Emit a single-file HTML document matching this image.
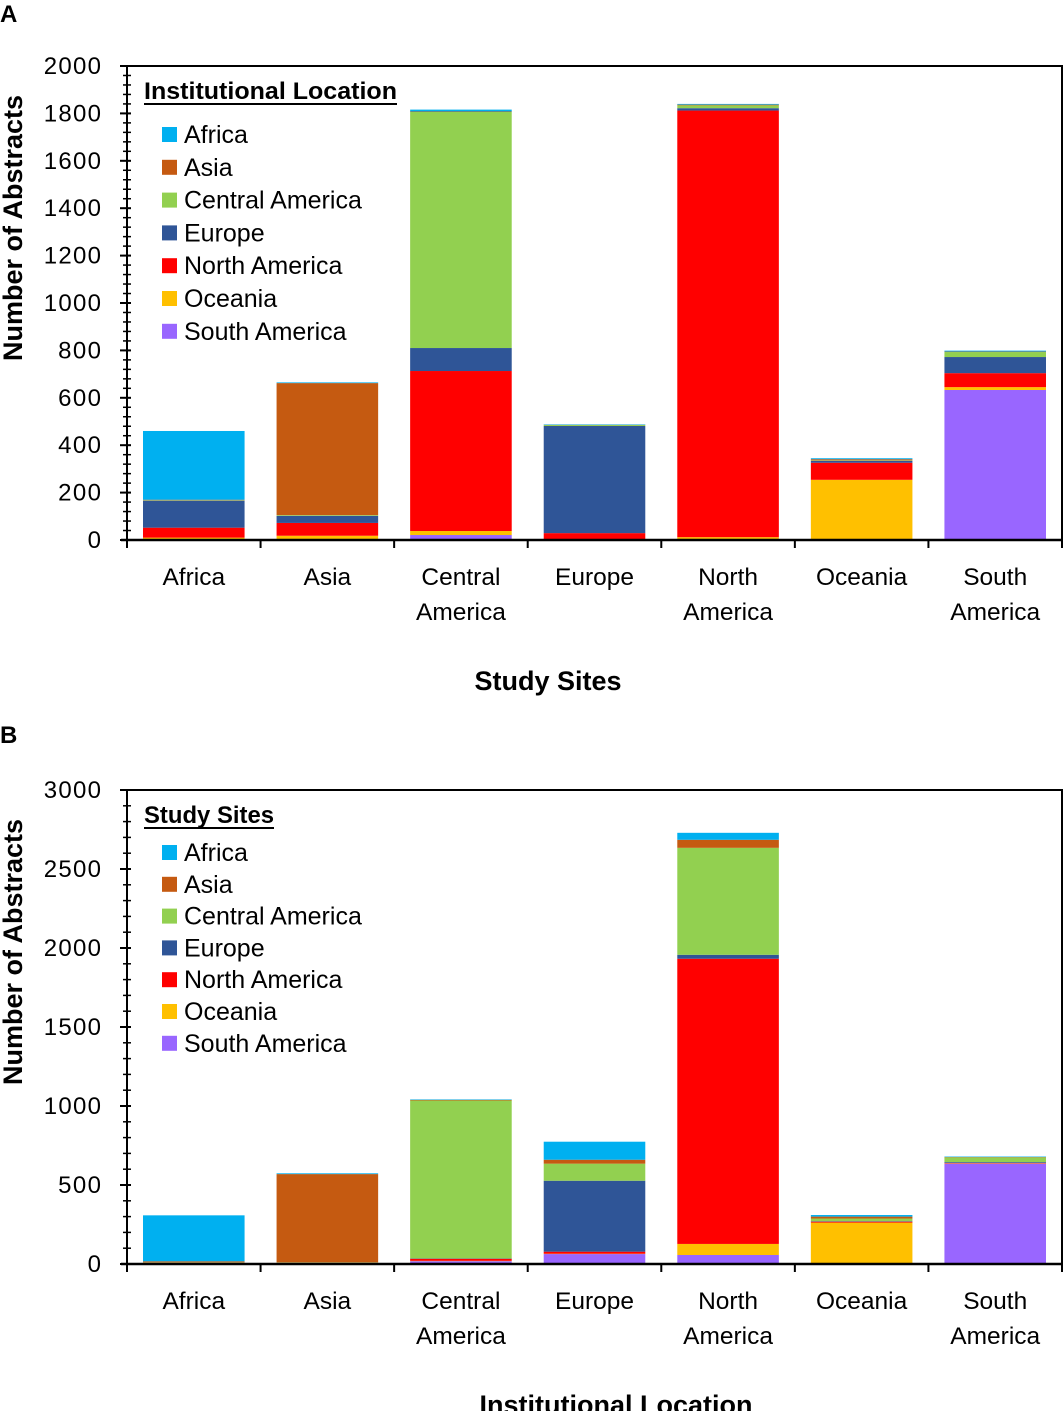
<!DOCTYPE html>
<html><head><meta charset="utf-8"><style>
body{margin:0;background:#fff;}
svg{display:block;font-family:"Liberation Sans",sans-serif;}
</style></head><body>
<svg id="svg" width="1063" height="1411" viewBox="0 0 1063 1411" xmlns="http://www.w3.org/2000/svg"></svg>
<script>
const categories = ["Africa","Asia","Central America","Europe","North America","Oceania","South America"];
const seriesNames = ["Africa","Asia","Central America","Europe","North America","Oceania","South America"];
const colors = ["#00B0F0","#C55A11","#92D050","#2F5597","#FF0000","#FFC000","#9966FF"];
// Panel A values: per series (institutional location), per study site category
const aAfrica  = [290, 3, 8, 2, 3, 4, 4];
const aAsia    = [2, 557, 2, 1, 3, 5, 2];
const aCentral = [2, 3, 996, 4, 12, 2, 21];
const aEurope  = [114, 30, 97, 452, 10, 8, 68];
const aNorth   = [42, 54, 675, 27, 1800, 72, 59];
const aOceania = [8, 17, 17, 1, 8, 253, 12];
const aSouth   = [2, 1, 21, 1, 4, 1, 633];
// Panel B values: per series (study site), per institutional location category
const bAfrica  = [291, 5, 3, 114, 44, 10, 3];
const bAsia    = [5, 557, 4, 25, 51, 12, 2];
const bCentral = [1, 1, 1000, 108, 677, 17, 30];
const bEurope  = [1, 1, 2, 449, 25, 3, 5];
const bNorth   = [1, 1, 13, 13, 1805, 6, 3];
const bOceania = [8, 8, 2, 2, 70, 259, 2];
const bSouth   = [1, 1, 18, 63, 57, 3, 635];
const aTicks = [0,200,400,600,800,1000,1200,1400,1600,1800,2000];
const bTicks = [0,500,1000,1500,2000,2500,3000];

const NS="http://www.w3.org/2000/svg";
const svg=document.getElementById('svg');
function mk(tag,attrs,parent){const e=document.createElementNS(NS,tag);for(const k in attrs)e.setAttribute(k,attrs[k]);(parent||svg).appendChild(e);return e;}

function panel(cfg){
  const g=mk('g',{});
  
  
  const x0=127,x1=1062,y0=cfg.base,yT=cfg.top,max=cfg.max;
  const yS=v=>y0-(v/max)*(y0-yT);
  const cw=(x1-x0)/categories.length;
  const xS=i=>x0+i*cw;
  const L=mk('text',{x:0,y:cfg.letterY,'font-size':24,'font-weight':'bold',fill:'#000'},g);L.textContent=cfg.letter;
  
  
  const stackOrder=[6,5,4,3,2,1,0];
  categories.forEach((c,i)=>{
    let acc=0;
    stackOrder.forEach(s=>{
      const v=cfg.data[s][i];
      const r=mk('rect',{x:xS(i)+16,y:yS(acc+v),width:cw-32,height:Math.max(0,yS(acc)-yS(acc+v)),fill:colors[s]},g);
      
      
      acc+=v;
    });
  });
  const fr=mk('path',{d:`M${x0},${yT}H${x1}V${y0}`,fill:'none',stroke:'#000','stroke-width':2},g);
  
  
  const ya=mk('line',{x1:x0,y1:yT,x2:x0,y2:y0,stroke:'#000','stroke-width':2},g);
  
  
  const xa=mk('line',{x1:x0-6,y1:y0,x2:x1,y2:y0,stroke:'#000','stroke-width':2.5},g);
  
  
  for(let v=0;v<=max;v+=cfg.minor){
    mk('line',{x1:x0-4,y1:yS(v),x2:x0+4,y2:yS(v),stroke:'#000','stroke-width':1.5},g);
  }
  cfg.ticks.forEach(t=>{
    mk('line',{x1:x0-7,y1:yS(t),x2:x0+4,y2:yS(t),stroke:'#000','stroke-width':2},g);
    const tx=mk('text',{x:101,y:yS(t)+8,'font-size':24,'text-anchor':'end','textLength':String(t).length*14.3,fill:'#000'},g);
    tx.textContent=t;
    
    
  });
  for(let i=0;i<=categories.length;i++){
    mk('line',{x1:xS(i),y1:y0,x2:xS(i),y2:y0+8,stroke:'#000','stroke-width':2},g);
  }
  categories.forEach((c,i)=>{
    const parts=c.split(' ');
    parts.forEach((p,k)=>{
      const tx=mk('text',{x:xS(i)+cw/2,y:y0+45+k*35,'font-size':24.5,'text-anchor':'middle',fill:'#000'},g);
      tx.textContent=p;
      
      
    });
  });
  const xt=mk('text',{x:cfg.xTitleX,y:y0+150,'font-size':27,'font-weight':'bold','text-anchor':'middle',fill:'#000'},g);
  xt.textContent=cfg.xTitle;
  
  
  const yt=mk('text',{x:0,y:0,'font-size':27,'font-weight':'bold','text-anchor':'middle',fill:'#000',transform:`translate(22,${(yT+y0)/2-75}) rotate(-90)`},g);
  yt.textContent='Number of Abstracts';
  
  
  const tw=cfg.legendTitle.length>14?253:130;
  const lt=mk('text',{x:144,y:yT+33,'font-size':24,'font-weight':'bold',fill:'#000',textLength:tw,lengthAdjust:'spacingAndGlyphs'},g);
  lt.textContent=cfg.legendTitle;
  
  
  mk('line',{x1:144,y1:yT+38,x2:144+tw,y2:yT+38,stroke:'#000','stroke-width':2},g);
  seriesNames.forEach((s,k)=>{
    const yy=cfg.legY+k*cfg.legStep;
    const sw=mk('rect',{x:162,y:yy-8,width:15,height:15,fill:colors[k]},g);
    
    
    const tx=mk('text',{x:184,y:yy+8,'font-size':25,fill:'#000'},g);
    tx.textContent=s;
    
    
  });
}
panel({name:'chart-a',letter:'A',letterY:22,base:540,top:66,max:2000,minor:40,ticks:aTicks,
  data:[aAfrica,aAsia,aCentral,aEurope,aNorth,aOceania,aSouth],xTitle:'Study Sites',xTitleX:548,
  legendTitle:'Institutional Location',legY:135,legStep:32.8});
panel({name:'chart-b',letter:'B',letterY:743,base:1264,top:790,max:3000,minor:100,ticks:bTicks,
  data:[bAfrica,bAsia,bCentral,bEurope,bNorth,bOceania,bSouth],xTitle:'Institutional Location',xTitleX:616,
  legendTitle:'Study Sites',legY:853,legStep:31.8});
</script>
</body></html>
